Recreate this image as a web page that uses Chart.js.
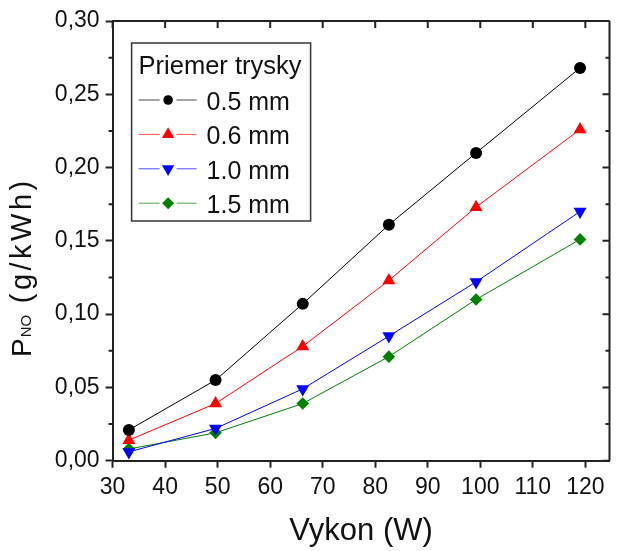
<!DOCTYPE html>
<html lang="sk">
<head>
<meta charset="utf-8">
<title>P_NO vs Vykon</title>
<script src="https://cdn.jsdelivr.net/npm/chart.js@4.4.1/dist/chart.umd.min.js"></script>
<style>
  html, body { margin: 0; padding: 0; background: #fff; }
</style>
</head>
<body>
<canvas id="chart" width="617" height="551"></canvas>
<script>
// data
const seriesNames = ['0.5 mm', '0.6 mm', '1.0 mm', '1.5 mm'];
const vykon = [33.1, 49.6, 66.2, 82.6, 99.2, 119.0];
const pno05 = [0.021, 0.055, 0.107, 0.161, 0.210, 0.268];
const pno06 = [0.014, 0.039, 0.078, 0.123, 0.173, 0.226];
const pno10 = [0.006, 0.022, 0.049, 0.085, 0.122, 0.170];
const pno15 = [0.008, 0.019, 0.039, 0.071, 0.110, 0.151];
const xTicks = [30, 40, 50, 60, 70, 80, 90, 100, 110, 120];
const yTicks = [0, 0.05, 0.10, 0.15, 0.20, 0.25, 0.30];
const yTickLabels = ['0,00', '0,05', '0,10', '0,15', '0,20', '0,25', '0,30'];
const yMinorTicks = [0.025, 0.075, 0.125, 0.175, 0.225, 0.275];
const legendTitle = 'Priemer trysky';
const xTitle = 'Vykon (W)';

const FONT = "'Liberation Sans', Arial, sans-serif";
const AXIS = '#222';

function pts(ys) {
  return vykon.map((x, i) => ({ x: x, y: ys[i] }));
}

const styles = [
  { color: '#000000', pointStyle: 'circle', radius: 6, rotation: 0 },
  { color: '#ff0000', pointStyle: 'triangle', radius: 7.5, rotation: 0 },
  { color: '#0000ff', pointStyle: 'triangle', radius: 7.5, rotation: 180 },
  { color: '#008000', pointStyle: 'rectRot', radius: 6.3, rotation: 0 }
];
const allSeries = [pno05, pno06, pno10, pno15];

const datasets = allSeries.map((ys, i) => ({
  label: seriesNames[i],
  data: pts(ys),
  borderColor: styles[i].color,
  backgroundColor: styles[i].color,
  borderWidth: 1,
  pointStyle: styles[i].pointStyle,
  pointRadius: styles[i].radius,
  pointRotation: styles[i].rotation,
  pointBorderWidth: 0,
  pointBackgroundColor: styles[i].color,
  tension: 0,
  clip: false
}));

// box, inward ticks on top/right, minor ticks, legend and y title
const framePlugin = {
  id: 'frame',
  afterDraw(chart) {
    const ctx = chart.ctx;
    const a = chart.chartArea;
    const xs = chart.scales.x, ys = chart.scales.y;
    ctx.save();
    ctx.strokeStyle = AXIS;
    ctx.lineWidth = 2;
    ctx.beginPath();
    ctx.moveTo(a.left, a.top); ctx.lineTo(a.right, a.top);
    ctx.moveTo(a.right, a.top); ctx.lineTo(a.right, a.bottom);
    ctx.stroke();

    ctx.beginPath();
    xTicks.forEach(v => {
      const px = xs.getPixelForValue(v);
      ctx.moveTo(px, a.top); ctx.lineTo(px, a.top + 7);
    });
    yTicks.forEach(v => {
      const py = ys.getPixelForValue(v);
      ctx.moveTo(a.right, py); ctx.lineTo(a.right - 7, py);
    });
    yMinorTicks.forEach(v => {
      const py = ys.getPixelForValue(v);
      ctx.moveTo(a.right, py); ctx.lineTo(a.right - 4, py);
      ctx.moveTo(a.left, py); ctx.lineTo(a.left - 4, py);
    });
    ctx.stroke();

    // legend
    const bx = a.left + 19, by = a.top + 22, bw = 179, bh = 178;
    ctx.fillStyle = '#fff';
    ctx.fillRect(bx, by, bw, bh);
    ctx.strokeStyle = '#333';
    ctx.lineWidth = 1.5;
    ctx.strokeRect(bx, by, bw, bh);
    ctx.fillStyle = '#111';
    ctx.textAlign = 'left';
    ctx.textBaseline = 'alphabetic';
    ctx.font = '25.5px ' + FONT;
    ctx.fillText(legendTitle, bx + 7, by + 31);
    chart.data.datasets.forEach((ds, i) => {
      const base = by + 67 + i * 34.4;
      const my = base - 10;
      ctx.strokeStyle = ds.borderColor;
      ctx.globalAlpha = 0.7;
      ctx.lineWidth = 1;
      ctx.beginPath();
      ctx.moveTo(bx + 7, my); ctx.lineTo(bx + 28, my);
      ctx.moveTo(bx + 45, my); ctx.lineTo(bx + 65, my);
      ctx.stroke();
      ctx.globalAlpha = 1;
      ctx.fillStyle = ds.backgroundColor;
      ctx.strokeStyle = ds.borderColor;
      Chart.helpers.drawPoint(ctx, {
        pointStyle: ds.pointStyle,
        rotation: ds.pointRotation,
        radius: ds.pointStyle === 'circle' ? ds.pointRadius * 0.8 : ds.pointRadius * 0.95,
        borderWidth: 0
      }, bx + 36.5, my);
      ctx.fillStyle = '#111';
      ctx.font = '25px ' + FONT;
      ctx.fillText(ds.label, bx + 75, base);
    });

    // y title with subscript
    ctx.translate(31, 357);
    ctx.rotate(-Math.PI / 2);
    ctx.fillStyle = '#111';
    ctx.textAlign = 'left';
    ctx.font = '28px ' + FONT;
    ctx.fillText('P', 0, 0);
    let w = ctx.measureText('P').width;
    ctx.font = '15px ' + FONT;
    ctx.fillText('NO', w + 1, 0);
    w += 1 + ctx.measureText('NO').width;
    ctx.font = '29px ' + FONT;
    if ('letterSpacing' in ctx) ctx.letterSpacing = '3.5px';
    ctx.fillText(' (g/kWh)', w, 0);
    ctx.restore();
  }
};

Chart.defaults.font.family = FONT;
Chart.defaults.color = '#111';

new Chart(document.getElementById('chart').getContext('2d'), {
  type: 'line',
  data: { datasets: datasets },
  options: {
    responsive: false,
    animation: false,
    devicePixelRatio: 1,
    layout: { padding: { top: 21, right: 1, left: 0, bottom: 0 } },
    plugins: { legend: { display: false }, tooltip: { enabled: false } },
    scales: {
      x: {
        type: 'linear',
        min: 30,
        max: 124.6,
        afterBuildTicks: s => { s.ticks = xTicks.map(v => ({ value: v })); },
        afterFit: s => { s.height = 90.3; },
        ticks: { font: { size: 23 }, padding: 6, maxRotation: 0, autoSkip: false, color: '#111' },
        grid: { drawOnChartArea: false, drawTicks: true, tickLength: 7, tickWidth: 2, tickColor: AXIS },
        border: { display: true, color: AXIS, width: 2 },
        title: { display: true, text: xTitle, font: { size: 31 }, color: '#111', padding: { top: 1, bottom: 1 } }
      },
      y: {
        type: 'linear',
        min: 0,
        max: 0.30,
        afterBuildTicks: s => { s.ticks = yTicks.map(v => ({ value: v })); },
        afterFit: s => { s.width = 112.6; },
        ticks: {
          font: { size: 23 },
          padding: 6,
          color: '#111',
          callback: (v, i) => yTickLabels[i]
        },
        grid: { drawOnChartArea: false, drawTicks: true, tickLength: 7, tickWidth: 2, tickColor: AXIS },
        border: { display: true, color: AXIS, width: 2 }
      }
    }
  },
  plugins: [framePlugin]
});
</script>
</body>
</html>
